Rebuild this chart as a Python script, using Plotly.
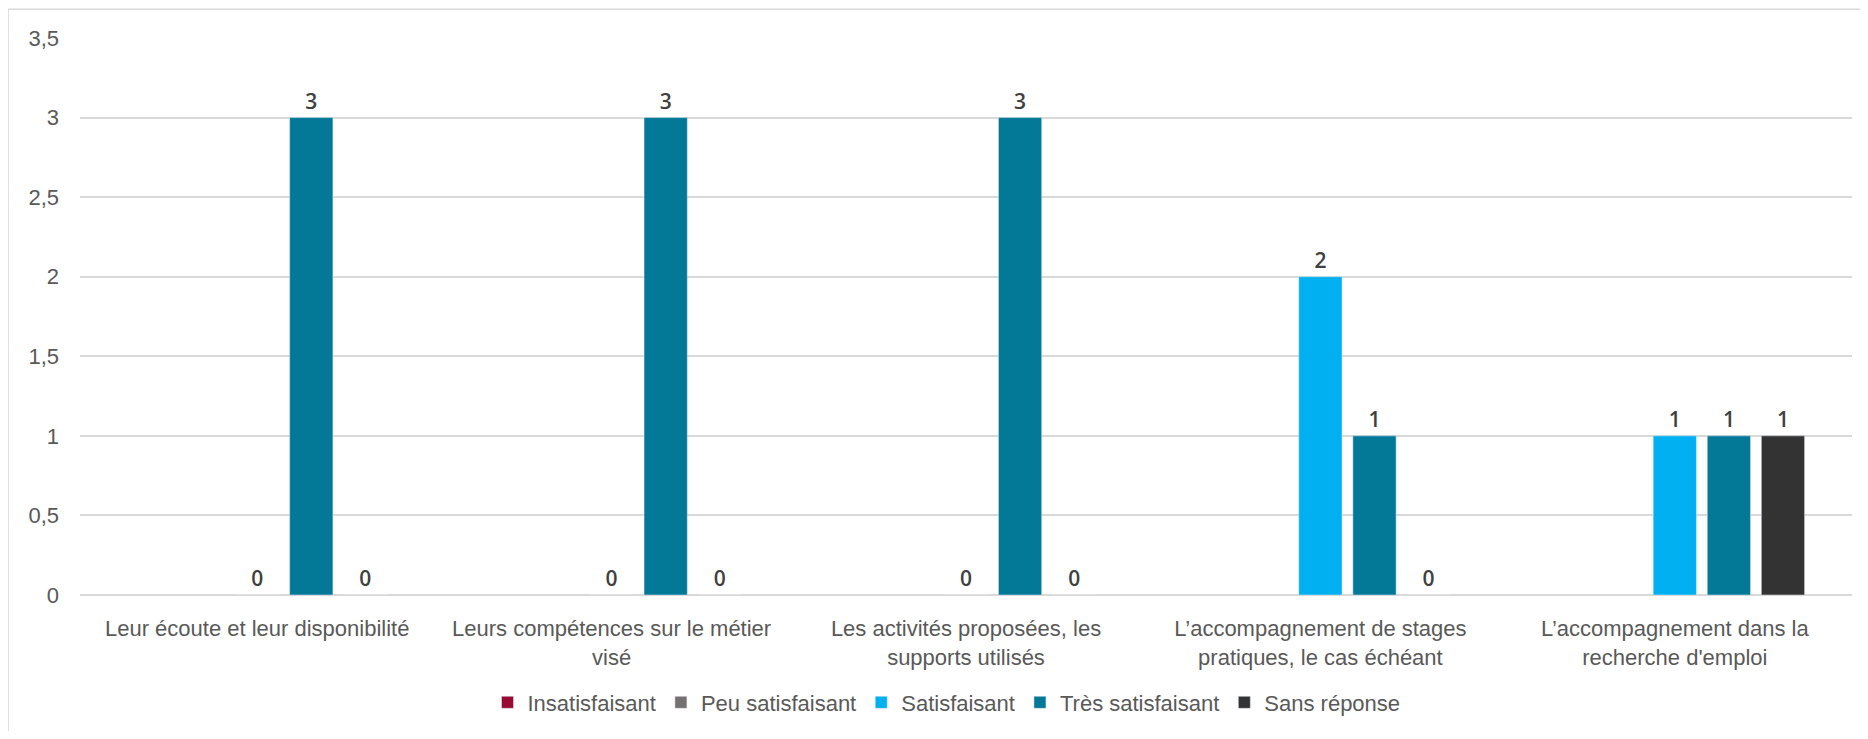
import plotly.graph_objects as go

categories = [
    "Leur écoute et leur disponibilité",
    "Leurs compétences sur le métier<br>visé",
    "Les activités proposées, les<br>supports utilisés",
    "L’accompagnement de stages<br>pratiques, le cas échéant",
    "L’accompagnement dans la<br>recherche d'emploi",
]
series_names = ["Insatisfaisant", "Peu satisfaisant", "Satisfaisant", "Très satisfaisant", "Sans réponse"]
insatisfaisant = [None, None, None, None, None]
peu_satisfaisant = [None, None, None, None, None]
satisfaisant = [0, 0, 0, 2, 1]
tres_satisfaisant = [3, 3, 3, 1, 1]
sans_reponse = [0, 0, 0, 0, 1]
y_ticks = [0, 0.5, 1, 1.5, 2, 2.5, 3, 3.5]

colors = ["#990A33", "#767171", "#00B0F0", "#037897", "#333333"]
all_values = [insatisfaisant, peu_satisfaisant, satisfaisant, tres_satisfaisant, sans_reponse]

FONT = "Liberation Sans, Arial, sans-serif"

fig = go.Figure()
for name, vals, col in zip(series_names, all_values, colors):
    fig.add_trace(go.Bar(
        name=name, x=categories, y=vals, marker_color=col,
        text=[("" if v is None else str(v)) for v in vals],
        textposition="outside", cliponaxis=False,
        textfont=dict(family="Open Sans, sans-serif", size=21, color="#404040", weight=600),
        hoverinfo="skip",
    ))

fig.update_layout(
    width=1852, height=723,
    margin=dict(l=72, r=8, t=30, b=129),
    paper_bgcolor="white", plot_bgcolor="white",
    barmode="group", bargap=0.237, bargroupgap=0.2,
    separators=", ",
    font=dict(family=FONT, size=22, color="#595959"),
    showlegend=True,
    legend=dict(orientation="h", x=0.489, xanchor="center", y=-0.193, yanchor="middle",
                font=dict(family=FONT, size=22, color="#595959"), traceorder="normal"),
    shapes=[dict(type="rect", xref="paper", yref="paper", x0=-0.0406, x1=1.05, y0=-0.5, y1=1.0518,
                 line=dict(color="#D9D9D9", width=1.5), fillcolor="rgba(0,0,0,0)", layer="below")],
)
fig.update_xaxes(showgrid=False, showline=False, ticks="", ticklabelstandoff=18,
                 tickfont=dict(size=22, color="#595959"))
fig.update_yaxes(range=[0, 3.5], tickvals=y_ticks, showgrid=True, gridcolor="#D9D9D9", gridwidth=1.5,
                 zeroline=True, zerolinecolor="#D9D9D9", zerolinewidth=2,
                 showline=False, ticks="", ticklabelstandoff=20,
                 tickfont=dict(size=22, color="#595959"))

fig.write_html("out.html")
